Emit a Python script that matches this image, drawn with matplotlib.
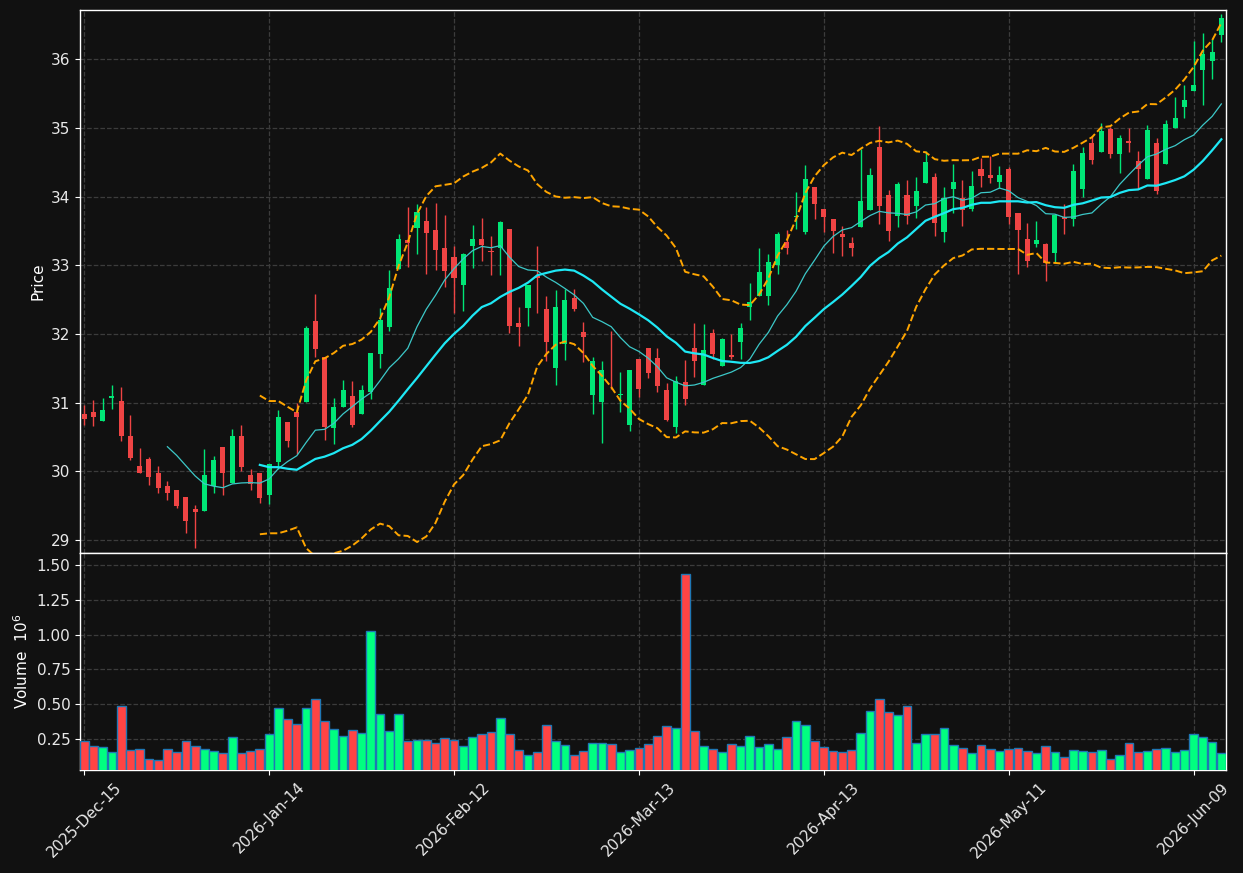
import matplotlib
matplotlib.use("Agg")
import matplotlib.pyplot as plt
import numpy as np
import pandas as pd

# daily OHLC (124 sessions, 2025-12-15 .. 2026-06-12)
opens = [30.83, 30.87, 30.73, 31.07, 31.03, 30.52, 30.07, 30.18, 29.98, 29.79,
         29.72, 29.62, 29.45, 29.42, 29.79, 30.35, 29.83, 30.52, 29.94, 29.98,
         29.65, 30.13, 30.72, 30.87, 31.01, 32.19, 31.66, 30.63, 30.93, 31.09,
         30.83, 31.16, 31.71, 32.10, 32.95, 33.37, 33.54, 33.64, 33.51, 33.26,
         33.12, 32.71, 33.28, 33.39, 33.21, 33.25, 33.53, 32.16, 32.38, 32.85,
         32.37, 31.50, 31.85, 32.52, 32.03, 31.11, 31.01, 31.38, 31.11, 30.67,
         31.63, 31.79, 31.65, 31.18, 30.64, 31.30, 31.80, 31.25, 32.01, 31.54,
         31.70, 31.88, 32.39, 32.55, 32.55, 33.01, 33.34, 33.70, 33.48, 34.14,
         33.82, 33.67, 33.46, 33.32, 33.56, 33.80, 34.73, 34.03, 33.72, 34.03,
         33.86, 34.20, 34.29, 33.48, 34.11, 33.98, 33.82, 34.41, 34.31, 34.21,
         34.41, 33.77, 33.39, 33.31, 33.31, 33.18, 33.71, 33.68, 34.11, 34.79,
         34.65, 34.98, 34.62, 34.81, 34.52, 34.26, 34.79, 34.48, 35.00, 35.31,
         35.54, 35.84, 35.98, 36.35]
highs = [30.97, 31.04, 31.07, 31.25, 31.23, 30.82, 30.34, 30.21, 30.08, 29.86,
         29.72, 29.62, 29.51, 30.32, 30.22, 30.35, 30.62, 30.68, 30.03, 29.98,
         30.10, 30.89, 30.72, 31.00, 32.12, 32.59, 31.66, 31.07, 31.33, 31.31,
         31.26, 31.73, 32.38, 32.93, 33.45, 33.85, 33.90, 33.85, 33.91, 33.74,
         33.28, 33.18, 33.59, 33.69, 33.43, 33.65, 33.53, 32.39, 32.72, 33.28,
         32.56, 32.64, 32.65, 32.66, 32.18, 31.66, 31.60, 32.05, 31.44, 31.47,
         31.63, 31.80, 31.80, 31.29, 31.39, 31.62, 32.16, 32.15, 32.07, 31.94,
         32.00, 32.16, 32.74, 33.25, 33.17, 33.49, 33.51, 34.07, 34.46, 34.14,
         33.82, 33.67, 33.57, 33.42, 34.69, 34.42, 35.03, 34.10, 34.21, 34.24,
         34.29, 34.66, 34.35, 34.14, 34.47, 34.25, 34.37, 34.56, 34.59, 34.45,
         34.43, 33.77, 33.62, 33.64, 33.33, 33.74, 33.90, 34.47, 34.72, 34.89,
         35.08, 35.02, 34.90, 35.00, 34.66, 35.05, 34.86, 35.12, 35.46, 35.63,
         36.27, 36.39, 36.30, 36.66]
lows = [30.68, 30.66, 30.73, 30.91, 30.44, 30.16, 29.98, 29.80, 29.68, 29.58,
        29.47, 29.10, 28.88, 29.42, 29.68, 29.65, 29.83, 30.00, 29.72, 29.54,
        29.53, 30.03, 30.35, 30.25, 31.01, 31.67, 30.45, 30.40, 30.93, 30.65,
        30.83, 31.05, 31.50, 32.05, 32.95, 32.98, 33.17, 32.87, 32.93, 32.69,
        32.31, 32.33, 32.96, 33.07, 32.86, 32.86, 32.01, 31.82, 32.11, 32.31,
        31.60, 31.26, 31.62, 32.33, 31.59, 30.83, 30.41, 31.20, 30.86, 30.58,
        31.08, 31.36, 31.15, 30.73, 30.56, 30.97, 31.38, 31.25, 31.63, 31.54,
        31.63, 31.64, 32.20, 32.55, 32.42, 32.87, 33.17, 33.53, 33.46, 33.68,
        33.49, 33.18, 33.13, 33.14, 33.56, 33.80, 33.61, 33.35, 33.56, 33.61,
        33.69, 34.20, 33.43, 33.34, 33.77, 33.57, 33.79, 34.14, 34.20, 34.13,
        33.61, 32.88, 32.98, 33.27, 32.77, 33.03, 33.46, 33.57, 34.00, 34.48,
        34.65, 34.56, 34.34, 34.65, 34.11, 34.26, 34.04, 34.48, 35.00, 35.15,
        35.54, 35.34, 35.71, 36.25]
closes = [30.76, 30.79, 30.90, 31.09, 30.51, 30.20, 29.98, 29.91, 29.76, 29.68,
          29.50, 29.28, 29.41, 29.94, 30.17, 29.98, 30.52, 30.06, 29.81, 29.61,
          30.10, 30.79, 30.44, 30.79, 32.09, 31.78, 30.64, 30.93, 31.19, 30.68,
          31.18, 31.73, 32.20, 32.67, 33.38, 33.33, 33.78, 33.47, 33.22, 32.92,
          32.82, 33.16, 33.39, 33.29, 33.19, 33.63, 32.11, 32.10, 32.72, 32.81,
          31.88, 32.40, 32.50, 32.36, 31.95, 31.60, 31.48, 31.37, 31.13, 31.47,
          31.20, 31.43, 31.24, 30.75, 31.32, 31.06, 31.60, 31.76, 31.71, 31.92,
          31.66, 32.09, 32.47, 32.91, 33.05, 33.45, 33.25, 33.72, 34.26, 33.89,
          33.71, 33.50, 33.42, 33.25, 33.94, 34.32, 33.86, 33.50, 34.19, 33.72,
          34.09, 34.50, 33.62, 33.98, 34.22, 33.81, 34.15, 34.30, 34.27, 34.32,
          33.70, 33.51, 33.06, 33.37, 33.04, 33.74, 33.68, 34.37, 34.63, 34.54,
          34.96, 34.62, 34.85, 34.79, 34.41, 34.97, 34.09, 35.06, 35.15, 35.41,
          35.63, 36.08, 36.11, 36.61]
# volume in millions
volumes = [0.236, 0.205, 0.198, 0.162, 0.486, 0.171, 0.183, 0.112, 0.098, 0.179,
           0.157, 0.240, 0.205, 0.183, 0.169, 0.150, 0.269, 0.150, 0.164, 0.179,
           0.286, 0.476, 0.398, 0.362, 0.476, 0.540, 0.383, 0.326, 0.276, 0.319,
           0.298, 1.026, 0.433, 0.312, 0.433, 0.240, 0.248, 0.248, 0.221, 0.262,
           0.248, 0.205, 0.269, 0.286, 0.305, 0.405, 0.286, 0.176, 0.140, 0.162,
           0.355, 0.240, 0.212, 0.140, 0.169, 0.226, 0.226, 0.219, 0.162, 0.176,
           0.190, 0.219, 0.276, 0.348, 0.333, 1.433, 0.312, 0.205, 0.183, 0.162,
           0.219, 0.205, 0.276, 0.198, 0.219, 0.183, 0.269, 0.383, 0.355, 0.240,
           0.198, 0.169, 0.162, 0.171, 0.298, 0.455, 0.540, 0.448, 0.426, 0.490,
           0.226, 0.290, 0.290, 0.333, 0.212, 0.190, 0.155, 0.212, 0.183, 0.169,
           0.183, 0.190, 0.169, 0.155, 0.205, 0.162, 0.126, 0.176, 0.169, 0.162,
           0.176, 0.112, 0.140, 0.226, 0.162, 0.169, 0.183, 0.190, 0.162, 0.176,
           0.290, 0.269, 0.233, 0.155]
tick_labels = ["2025-Dec-15", "2026-Jan-14", "2026-Feb-12", "2026-Mar-13",
               "2026-Apr-13", "2026-May-11", "2026-Jun-09"]

bg = "#111111"
up_c, dn_c = "#00e676", "#ef4444"
vup_c, vdn_c = "#00ff80", "#ff4444"

o = np.array(opens); h = np.array(highs); l = np.array(lows); c = np.array(closes)
v = np.array(volumes)
x = np.arange(len(c))
up = c >= o

cs = pd.Series(c)
ma10 = cs.rolling(10).mean()
ma20 = cs.rolling(20).mean()
sd20 = cs.rolling(20).std(ddof=0)
bb_up = ma20 + 2 * sd20
bb_lo = ma20 - 2 * sd20

fig = plt.figure(figsize=(12.43, 8.73), dpi=100, facecolor=bg)
ax = fig.add_axes([0.0644, 0.3666, 0.9219, 0.6219], facecolor=bg)
axv = fig.add_axes([0.0644, 0.1180, 0.9219, 0.2486], facecolor=bg, sharex=ax)

# candles
ccol = np.where(up, up_c, dn_c)
ax.vlines(x, l, h, colors=ccol, linewidth=1.0, zorder=2)
body_lo = np.minimum(o, c)
body_h = np.maximum(np.abs(c - o), 0.01)
ax.bar(x, body_h, bottom=body_lo, width=0.55, color=ccol, linewidth=0, zorder=3)

# indicators
ax.plot(x, ma10, color="#3cc8c8", linewidth=0.9, zorder=4)
ax.plot(x, ma20, color="#1ee8f5", linewidth=1.6, zorder=4)
ax.plot(x, bb_up, color="#ffa500", linewidth=1.4, linestyle="--", zorder=4)
ax.plot(x, bb_lo, color="#ffa500", linewidth=1.4, linestyle="--", zorder=4)

# volume
axv.bar(x, v, width=0.95, color=np.where(up, vup_c, vdn_c),
        edgecolor="#1f77b4", linewidth=1.0, zorder=3)

ax.set_xlim(-0.45, len(c) - 0.5)
ax.set_ylim(28.81, 36.72)
axv.set_ylim(0.03, 1.585)

ticks = np.arange(len(tick_labels)) * 20
axv.set_xticks(ticks)
axv.set_xticklabels(tick_labels, rotation=45, ha="center")
plt.setp(ax.get_xticklabels(), visible=False)
ax.set_yticks(np.arange(29, 37, 1))
axv.set_yticks([0.25, 0.5, 0.75, 1.0, 1.25, 1.5])
axv.set_yticklabels(["0.25", "0.50", "0.75", "1.00", "1.25", "1.50"])

ax.set_ylabel("Price", color="white", fontsize=11)
axv.set_ylabel("Volume  $10^{6}$", color="white", fontsize=11)

for a in (ax, axv):
    a.grid(True, color="#3c3c3c", linestyle="--", linewidth=0.9)
    a.set_axisbelow(True)
    a.tick_params(colors="white", labelcolor="#e8e8e8", labelsize=11)
    for s in a.spines.values():
        s.set_color("white")
        s.set_linewidth(1.0)

fig.savefig("out.png", dpi=100, facecolor=bg)
